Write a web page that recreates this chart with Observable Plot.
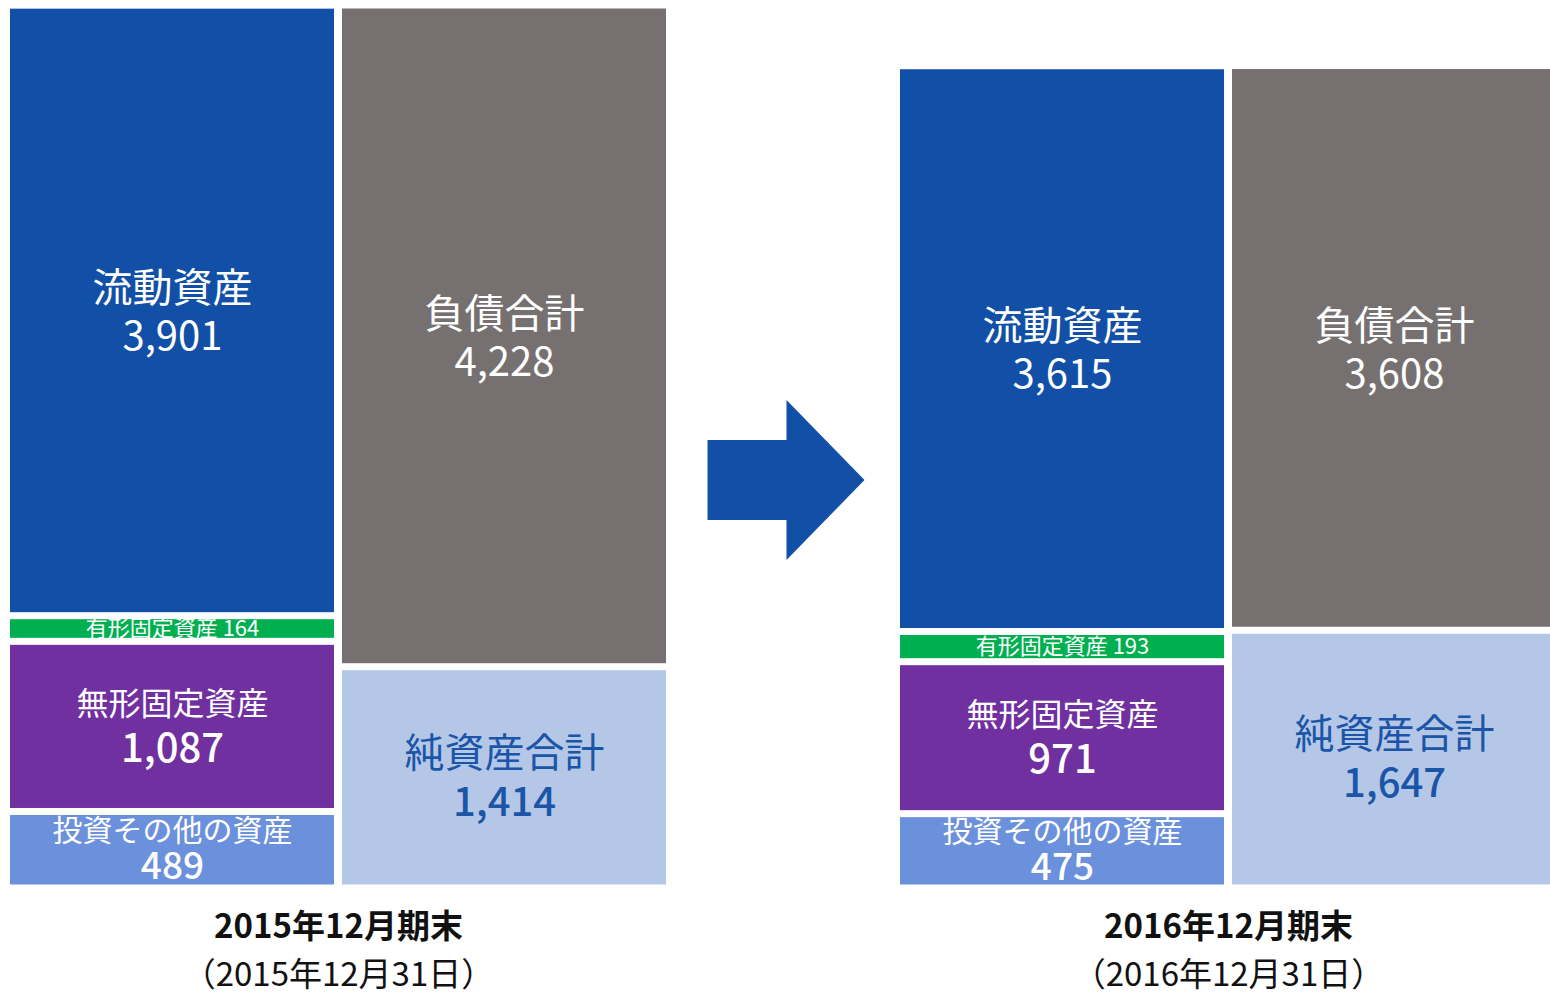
<!DOCTYPE html>
<html>
<head>
<meta charset="utf-8">
<script src="https://cdn.jsdelivr.net/npm/d3@7"></script>
<script src="https://cdn.jsdelivr.net/npm/@observablehq/plot@0.6"></script>
<style>
html, body { margin: 0; padding: 0; background: #fff; overflow: hidden; }
#wrap { position: relative; width: 1556px; height: 1000px; }
</style>
</head>
<body>
<div id="wrap"></div>
<script>
// ---- data ----
const periods = ["2015年12月期末", "2016年12月期末"];
const periodDates = ["（2015年12月31日）", "（2016年12月31日）"];
const sides = ["資産", "負債・純資産"];
const assetItems = ["流動資産", "有形固定資産", "無形固定資産", "投資その他の資産"];
const assetValues2015 = [3901, 164, 1087, 489];
const assetValues2016 = [3615, 193, 971, 475];
const claimItems = ["負債合計", "純資産合計"];
const claimValues2015 = [4228, 1414];
const claimValues2016 = [3608, 1647];
const itemColors = ["#1150A6", "#00B050", "#7030A0", "#6B90DC", "#767170", "#B4C7E7"];

// ---- table built from the arrays ----
const rows = [];
[[assetValues2015, claimValues2015], [assetValues2016, claimValues2016]].forEach(([a, c], i) => {
  assetItems.forEach((item, j) => rows.push({period: periods[i], side: sides[0], item, value: a[j]}));
  claimItems.forEach((item, j) => rows.push({period: periods[i], side: sides[1], item, value: c[j]}));
});
const periodRows = periods.map((p, i) => ({period: p, date: periodDates[i]}));

const fmt = d3.format(",");
const stack = (o) => Plot.stackY({x: "side", fx: "period", y: "value", reverse: true, ...o});
const only = (items, fn) => (d) => items.includes(d.item) ? fn(d) : null;

const blueText = "#1A55A8";
const white = "#ffffff";

const txt = (items, fn, opts) =>
  Plot.text(rows, stack({text: only(items, fn), lineAnchor: "middle", ...opts}));

const chart = Plot.plot({
  width: 1556,
  height: 1000,
  marginTop: 5,
  marginBottom: 112,
  marginLeft: 10,
  marginRight: 0,
  style: {fontFamily: "'Noto Sans CJK JP', 'Noto Sans', sans-serif", background: "#fff"},
  fx: {domain: periods, paddingInner: 0.263, paddingOuter: 0, axis: null, label: null},
  x: {domain: sides, paddingInner: 8 / 332, paddingOuter: 0, axis: null, label: null},
  y: {axis: null, label: null},
  color: {domain: [...assetItems, ...claimItems], range: itemColors},
  marks: [
    Plot.barY(rows, stack({fill: "item", insetTop: 3.5, insetBottom: 3.5})),
    // large two-line labels (white)
    txt(["流動資産", "負債合計"], d => `${d.item}\n${fmt(d.value)}`, {lineHeight: 1.2, fontSize: 40, fill: white}),
    // net assets (blue text)
    txt(["純資産合計"], d => d.item, {dy: -24, fontSize: 40, fill: blueText}),
    txt(["純資産合計"], d => fmt(d.value), {dy: 25, fontSize: 40, fontWeight: 500, fill: blueText}),
    // smaller two-line labels
    txt(["無形固定資産"], d => d.item, {dy: -22, fontSize: 32, fill: white}),
    txt(["無形固定資産"], d => fmt(d.value), {dy: 22, fontSize: 40, fontWeight: 500, fill: white}),
    txt(["投資その他の資産"], d => d.item, {dy: -19, fontSize: 30, fill: white}),
    txt(["投資その他の資産"], d => fmt(d.value), {dy: 17, fontSize: 37, fontWeight: 500, fill: white}),
    // single-line label
    txt(["有形固定資産"], d => `${d.item} ${fmt(d.value)}`, {fontSize: 22, fill: white}),
    // period titles
    Plot.text(periodRows, {fx: "period", frameAnchor: "bottom", lineAnchor: "middle", text: "period",
      dy: 39, fontSize: 33, fontWeight: 700, fill: "#111"}),
    Plot.text(periodRows, {fx: "period", frameAnchor: "bottom", lineAnchor: "middle", text: "date",
      dy: 87, fontSize: 33, fill: "#111"})
  ]
});

const wrap = document.getElementById("wrap");
wrap.appendChild(chart);

// ---- decorative arrow between the two periods ----
let cx = 783;
try {
  const fx = chart.scale("fx");
  const leftEdge = fx.apply(periods[0]) + fx.bandwidth;
  const rightEdge = fx.apply(periods[1]);
  cx = (leftEdge + rightEdge) / 2 + 3;
} catch (e) {}
const cy = 480, halfW = 78.5, halfH = 80, bodyHalf = 40, headX = cx + 0.5;
const arrow = d3.create("svg")
  .attr("width", 1556).attr("height", 1000)
  .style("position", "absolute").style("left", "0").style("top", "0")
  .style("pointer-events", "none");
arrow.append("polygon")
  .attr("points", [
    [cx - halfW, cy - bodyHalf], [headX, cy - bodyHalf], [headX, cy - halfH],
    [cx + halfW, cy], [headX, cy + halfH], [headX, cy + bodyHalf], [cx - halfW, cy + bodyHalf]
  ].map(p => p.join(",")).join(" "))
  .attr("fill", "#1150A6");
wrap.appendChild(arrow.node());
</script>
</body>
</html>
